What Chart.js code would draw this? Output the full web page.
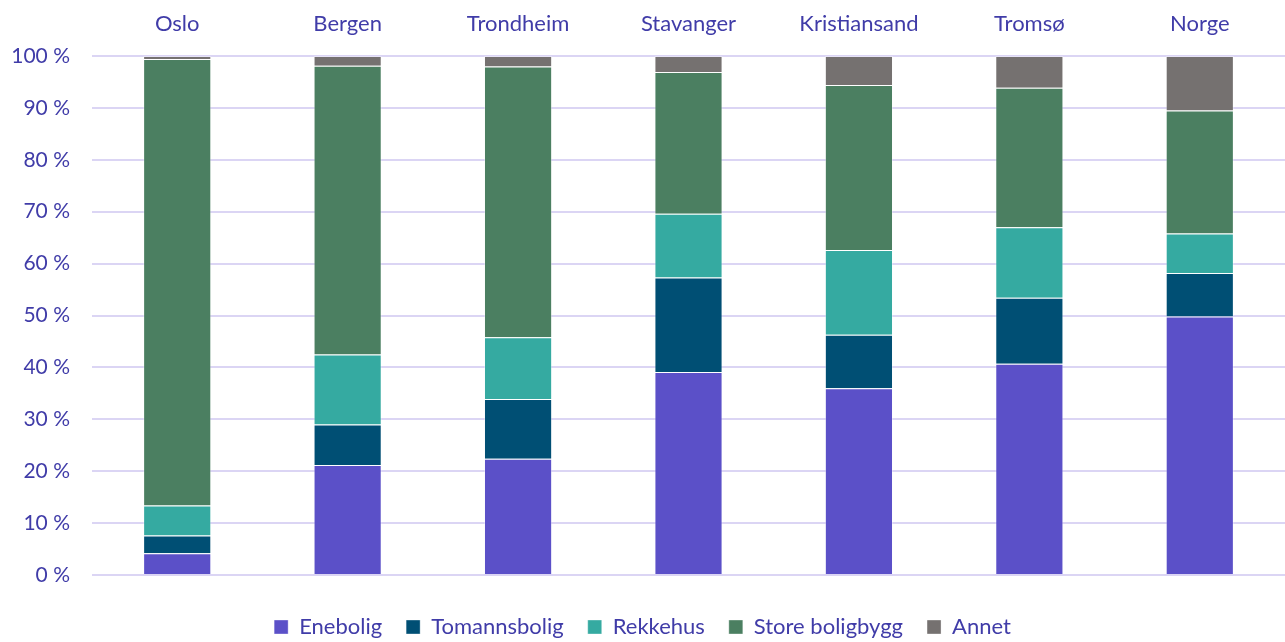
<!DOCTYPE html>
<html>
<head>
<meta charset="utf-8">
<title>Boligtyper</title>
<script src="https://cdn.jsdelivr.net/npm/chart.js@4.4.0/dist/chart.umd.min.js"></script>
<style>
  html, body { margin: 0; padding: 0; background: #fff; }
  #wrap { width: 1285px; height: 642px; position: relative; }
</style>
</head>
<body>
<div id="wrap"><canvas id="chart"></canvas></div>
<script>
const places = ['Oslo', 'Bergen', 'Trondheim', 'Stavanger', 'Kristiansand', 'Tromsø', 'Norge'];

// share of dwellings, percent
const enebolig      = [4.2, 21.2, 22.4, 39.1, 36.0, 40.7, 49.8];
const tomannsbolig  = [3.4, 7.8, 11.5, 18.2, 10.3, 12.7, 8.4];
const rekkehus      = [5.8, 13.5, 11.9, 12.3, 16.3, 13.6, 7.6];
const storeBolig    = [86.0, 55.6, 52.2, 27.3, 31.8, 26.9, 23.7];
const annet         = [0.6, 1.9, 2.0, 3.1, 5.6, 6.1, 10.5];

const yTicks = [0, 10, 20, 30, 40, 50, 60, 70, 80, 90, 100];

const textColor = '#403ca8';
const font = 'Lato, "Open Sans", sans-serif';

function series(label, data, color) {
  return {
    label: label,
    data: data,
    backgroundColor: color,
    borderColor: 'rgba(255,255,255,0.35)',
    borderWidth: 1,
    barPercentage: 0.4,
    categoryPercentage: 1.0
  };
}

const ctx = document.getElementById('chart').getContext('2d');
new Chart(ctx, {
  type: 'bar',
  data: {
    labels: places,
    datasets: [
      series('Enebolig', enebolig, '#5b50c8'),
      series('Tomannsbolig', tomannsbolig, '#004f74'),
      series('Rekkehus', rekkehus, '#35aaa1'),
      series('Store boligbygg', storeBolig, '#4b7f61'),
      series('Annet', annet, '#757170')
    ]
  },
  options: {
    responsive: true,
    maintainAspectRatio: false,
    animation: false,
    // negative bottom padding pushes the legend row a bit lower
    layout: { padding: { left: 0, right: 0, top: 0, bottom: -6 } },
    plugins: {
      tooltip: { enabled: false },
      legend: {
        position: 'bottom',
        // empty title only used as a spacer above the legend row
        title: { display: true, text: '', font: { size: 1, lineHeight: 1 }, padding: { top: 16, bottom: 0 } },
        labels: {
          color: textColor,
          font: { family: font, size: 22 },
          boxWidth: 14,
          boxHeight: 14,
          padding: 24
        }
      }
    },
    scales: {
      x: {
        position: 'top',
        stacked: true,
        grid: { display: false, drawTicks: false },
        border: { display: false },
        ticks: { color: textColor, font: { family: font, size: 22 }, padding: 19 },
        afterFit: function (scale) { scale.height = 56; }
      },
      y: {
        stacked: true,
        min: 0,
        max: 100,
        afterBuildTicks: function (scale) {
          scale.ticks = yTicks.map(v => ({ value: v }));
        },
        grid: { color: '#dbd5f4', lineWidth: 2, drawTicks: false },
        border: { display: false },
        ticks: {
          color: textColor,
          font: { family: font, size: 21 },
          padding: 22,
          callback: v => v + ' %'
        },
        afterFit: function (scale) { scale.width = 92; }
      }
    }
  }
});
</script>
</body>
</html>
